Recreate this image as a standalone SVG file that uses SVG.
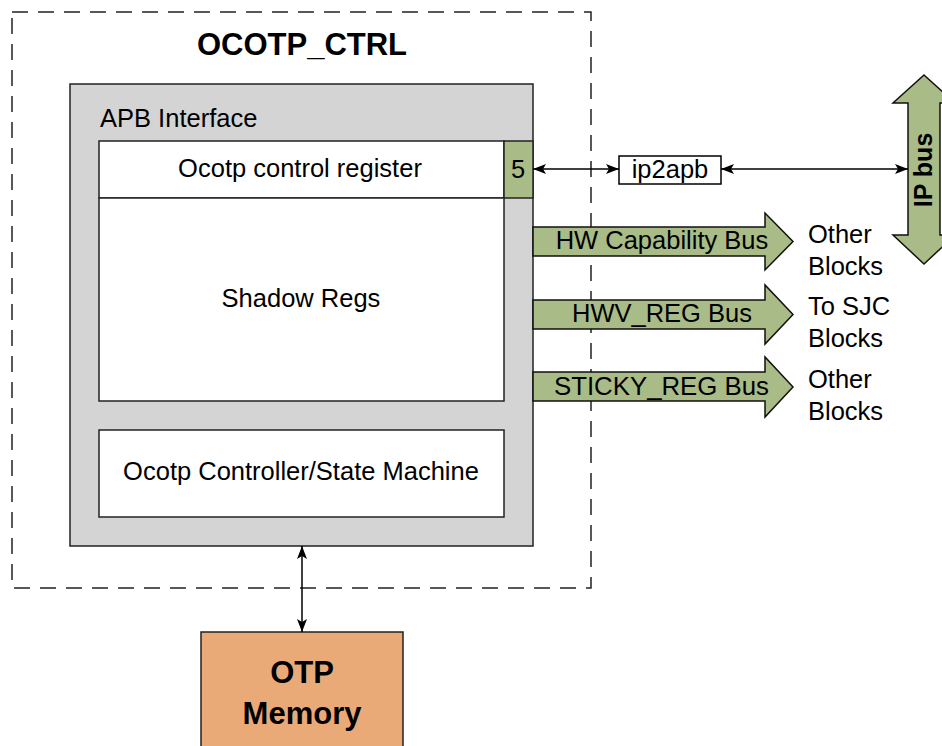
<svg xmlns="http://www.w3.org/2000/svg" width="942" height="746" viewBox="0 0 942 746">
<style>
text{font-family:"Liberation Sans",Arial,sans-serif;font-size:25.5px;fill:#000}
.b{font-weight:bold}
.m{text-anchor:middle}
.box{stroke:#222;stroke-width:1.5}
.bus{fill:#a9bb86;stroke:#111;stroke-width:1.5}
.ln{stroke:#000;stroke-width:1.5;fill:none}
</style>
<defs>
<marker id="ah" viewBox="0 0 13 10" refX="13" refY="5" markerWidth="13" markerHeight="10" markerUnits="userSpaceOnUse" orient="auto-start-reverse">
<path d="M0,0 L13,5 L0,10 L3,5 Z" fill="#000"/>
</marker>
</defs>
<g id="ocotp_ctrl">
<rect x="12" y="12" width="579" height="576" fill="none" stroke="#222" stroke-width="1.5" stroke-dasharray="16 10"/>
<text class="b m" x="302" y="55" style="font-size:31px">OCOTP_CTRL</text>
</g>
<g id="apb_interface">
<rect class="box" x="70" y="84" width="463" height="462" fill="#d4d4d4"/>
<text x="100" y="127">APB Interface</text>
</g>
<g id="control_register">
<rect class="box" x="99" y="141" width="405" height="57" fill="#fff"/>
<text class="m" x="300" y="177">Ocotp control register</text>
</g>
<g id="port5">
<rect class="box" x="504" y="141" width="29" height="57" fill="#a9bb86"/>
<text class="m" x="518" y="178">5</text>
</g>
<g id="shadow_regs">
<rect class="box" x="99" y="198" width="405" height="203" fill="#fff"/>
<text class="m" x="301" y="307">Shadow Regs</text>
</g>
<g id="controller">
<rect class="box" x="99" y="430" width="405" height="87" fill="#fff"/>
<text class="m" x="301" y="480">Ocotp Controller/State Machine</text>
</g>
<g id="otp_memory">
<rect class="box" x="201" y="632" width="202" height="130" fill="#eaaa78"/>
<text class="b m" x="302" y="683" style="font-size:31px">OTP</text>
<text class="b m" x="302" y="724" style="font-size:31px">Memory</text>
</g>
<g id="ip2apb">
<rect x="619" y="156" width="102" height="28" fill="#fff" stroke="#000" stroke-width="1.5"/>
<text class="m" x="670" y="178">ip2apb</text>
</g>
<g id="ip_bus">
<path class="bus" d="M924,75 L955,103 H940 V235 H955 L924,264 L893,235 H908 V103 H893 Z"/>
<text class="b m" transform="translate(932,170) rotate(-90)" style="font-size:25px">IP bus</text>
</g>
<g id="hw_capability_bus">
<path class="bus" d="M533,227 H765 V213 L793,241.5 L765,270 V256 H533 Z"/>
<text class="m" x="662" y="249">HW Capability Bus</text>
<text x="808" y="243">Other</text>
<text x="808" y="275">Blocks</text>
</g>
<g id="hwv_reg_bus">
<path class="bus" d="M533,300 H765 V285 L793,314.5 L765,344 V329 H533 Z"/>
<text class="m" x="662" y="322">HWV_REG Bus</text>
<text x="808" y="315">To SJC</text>
<text x="808" y="347">Blocks</text>
</g>
<g id="sticky_reg_bus">
<path class="bus" d="M533,372 H765 V357 L793,387 L765,417 V401 H533 Z"/>
<text x="554" y="395" textLength="215" lengthAdjust="spacingAndGlyphs">STICKY_REG Bus</text>
<text x="808" y="388">Other</text>
<text x="808" y="420">Blocks</text>
</g>
<g id="connectors">
<line class="ln" x1="533" y1="169" x2="619" y2="169" marker-start="url(#ah)" marker-end="url(#ah)"/>
<line class="ln" x1="721" y1="169" x2="908" y2="169" marker-start="url(#ah)" marker-end="url(#ah)"/>
<line class="ln" x1="302" y1="546" x2="302" y2="632" marker-start="url(#ah)" marker-end="url(#ah)"/>
</g>
</svg>
